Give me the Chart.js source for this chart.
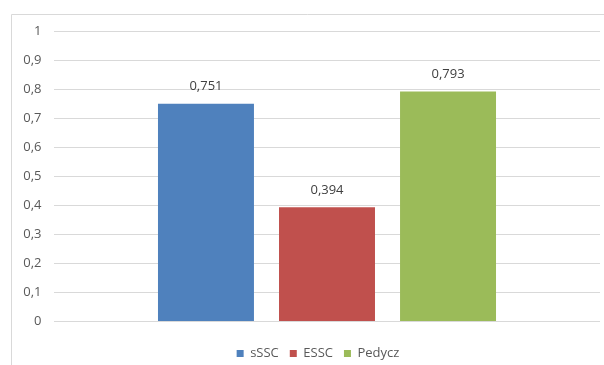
<!DOCTYPE html>
<html>
<head>
<meta charset="utf-8">
<script src="https://cdn.jsdelivr.net/npm/chart.js@4/dist/chart.umd.min.js"></script>
<style>
  html, body { margin: 0; padding: 0; background: #ffffff; }
  #wrap { width: 604px; height: 365px; position: relative; }
</style>
</head>
<body>
<div id="wrap"><canvas id="c" width="604" height="365"></canvas></div>
<script>
const categories = [''];
const seriesNames = ['sSSC', 'ESSC', 'Pedycz'];
const sSSC = [0.751];
const ESSC = [0.394];
const Pedycz = [0.793];
const seriesColors = ['#4F81BD', '#C0504D', '#9BBB59'];
const yTicks = [0, 0.1, 0.2, 0.3, 0.4, 0.5, 0.6, 0.7, 0.8, 0.9, 1];

const seriesValues = [sSSC, ESSC, Pedycz];
const FONT = { family: '"Open Sans", "Noto Sans", sans-serif', size: 13 };
const TEXT = '#595959';

const frame = {
  id: 'frame',
  beforeDraw(chart) {
    const ctx = chart.ctx;
    ctx.save();
    ctx.strokeStyle = '#d9d9d9';
    ctx.lineWidth = 1;
    ctx.beginPath();
    ctx.moveTo(11.5, 365);
    ctx.lineTo(11.5, 14.5);
    ctx.lineTo(604, 14.5);
    ctx.stroke();
    ctx.restore();
  }
};

const legendShift = {
  id: 'legendShift',
  afterLayout(chart) {
    if (chart.legend) {
      chart.legend.left += 18;
      chart.legend.right += 18;
    }
  }
};

const valueLabels = {
  id: 'valueLabels',
  afterDatasetsDraw(chart) {
    const ctx = chart.ctx;
    ctx.save();
    ctx.font = FONT.size + 'px ' + FONT.family;
    ctx.fillStyle = '#404040';
    ctx.textAlign = 'center';
    ctx.textBaseline = 'middle';
    chart.data.datasets.forEach((ds, i) => {
      const meta = chart.getDatasetMeta(i);
      meta.data.forEach((bar, j) => {
        const v = ds.data[j];
        ctx.fillText(v.toFixed(3).replace('.', ','), bar.x, bar.y - 17);
      });
    });
    ctx.restore();
  }
};

new Chart(document.getElementById('c'), {
  type: 'bar',
  data: {
    labels: categories,
    datasets: seriesNames.map((name, i) => ({
      label: name,
      data: seriesValues[i],
      backgroundColor: seriesColors[i],
      borderWidth: 0,
      categoryPercentage: 0.665,
      barPercentage: 0.793
    }))
  },
  options: {
    responsive: false,
    animation: false,
    devicePixelRatio: 1,
    layout: { padding: { top: 31.5, right: 4, left: 0, bottom: -5 } },
    plugins: {
      legend: {
        position: 'bottom',
        labels: {
          boxWidth: 7,
          boxHeight: 7,
          padding: 11,
          color: TEXT,
          font: FONT
        }
      },
      tooltip: { enabled: false }
    },
    scales: {
      x: {
        display: true,
        grid: { display: false, drawTicks: false },
        border: { display: false },
        ticks: { display: false },
        afterFit(scale) { scale.height = 14.5; }
      },
      y: {
        min: 0,
        max: 1,
        afterBuildTicks(scale) { scale.ticks = yTicks.map(v => ({ value: v })); },
        grid: { color: '#d9d9d9', lineWidth: 1, drawTicks: false },
        border: { display: false },
        ticks: {
          padding: 12.5,
          color: TEXT,
          font: FONT,
          callback: (v) => String(+Number(v).toFixed(1)).replace('.', ',')
        },
        afterFit(scale) { scale.width = 54; }
      }
    }
  },
  plugins: [frame, legendShift, valueLabels]
});
</script>
</body>
</html>
